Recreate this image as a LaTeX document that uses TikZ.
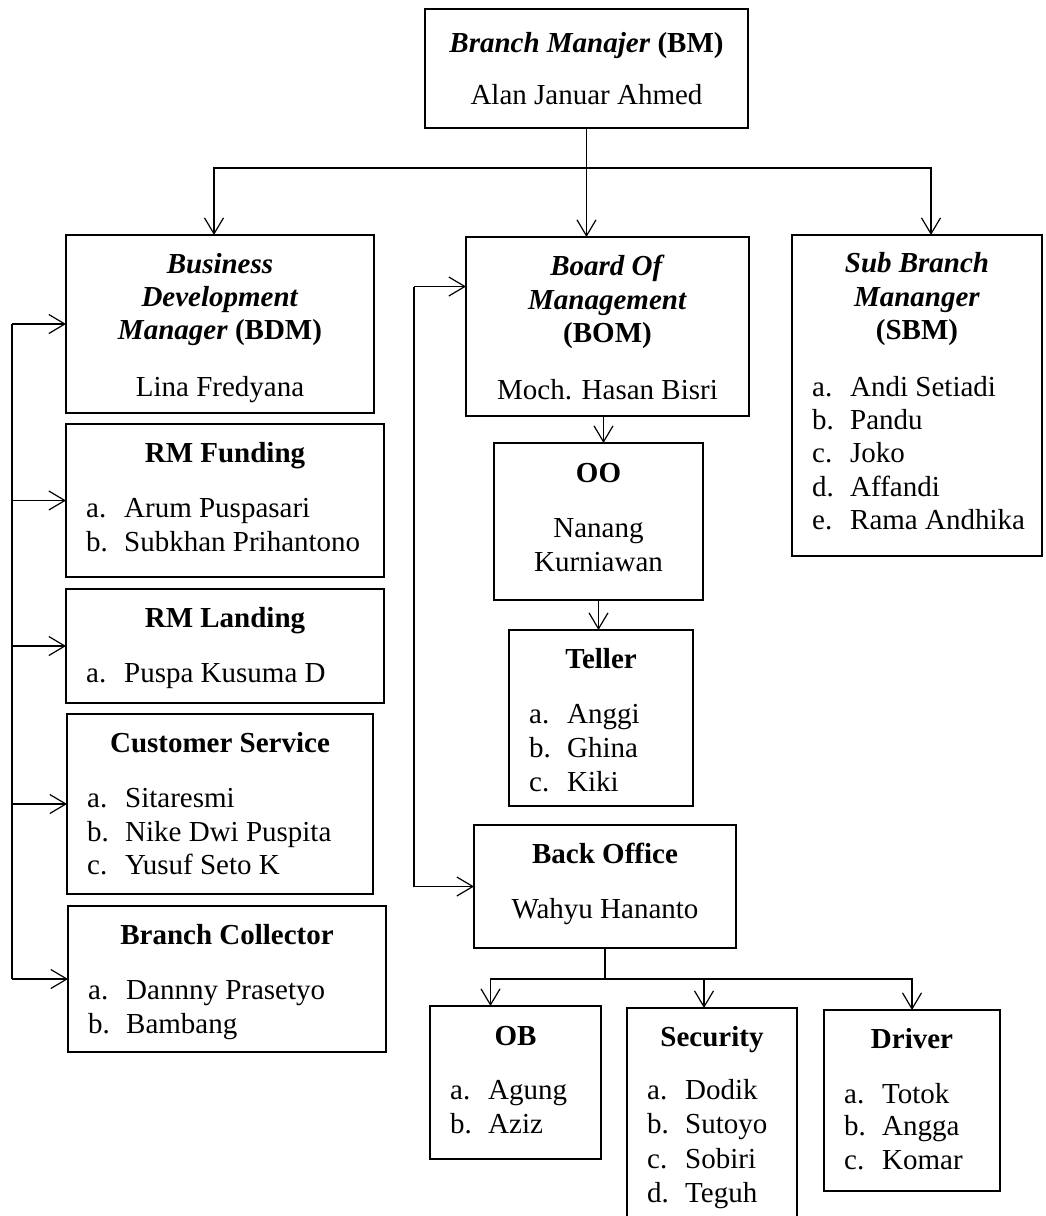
\documentclass[tikz,border=0pt]{standalone}
\usepackage{fontspec}
\setmainfont{Liberation Serif}
\usetikzlibrary{arrows.meta}
\newcommand\obox[5]{\node[bx, minimum width={(#4-#2)*1pt}, minimum height={(#5-#3)*1pt}] (#1) at ({(#2+#4)/2},{(#3+#5)/2}) {};}
\newcommand\otx[4]{\node[txt] (#1) at (#2,{#3+9}) {#4};}
\newcommand\oli[5]{\node[txt, anchor=base west] (#1) at (#2,{#3+9}) {\makebox[38pt][l]{#4}#5};}
\begin{document}
\begin{tikzpicture}[x=1pt,y=-1pt,
  bx/.style={draw, line width=1.3pt, inner sep=0pt, outer sep=0pt},
  txt/.style={inner sep=0pt, anchor=base, font=\fontsize{29}{33}\selectfont},
  ln/.style={line width=1.2pt},
  arr/.style={ln, -{Straight Barb[length=16pt,width=19pt]}}]
\useasboundingbox (0,0) rectangle (1045,1216);
\clip (0,0) rectangle (1045,1216);
\fill[white] (0,0) rectangle (1045,1216);

% boxes
\obox{bm}{425}{9}{748}{128}
\obox{bdm}{66}{235}{374}{413}
\obox{rmf}{66}{424}{384}{577}
\obox{rml}{66}{589}{384}{703}
\obox{cs}{67}{714}{373}{894}
\obox{bc}{68}{906}{386}{1052}
\obox{bom}{466}{237}{749}{416}
\obox{sbm}{792}{235}{1042}{556}
\obox{oo}{494}{443}{703}{600}
\obox{tel}{509}{630}{693}{806}
\obox{bo}{474}{825}{736}{948}
\obox{ob}{430}{1006}{601}{1159}
\obox{sec}{627}{1008}{797}{1240}
\obox{drv}{824}{1010}{1000}{1191}

% texts
\otx{bm-t}{586.5}{43}{\textbf{\textit{Branch Manajer} (BM)}}
\otx{bm-n}{586.5}{95}{Alan Januar Ahmed}

\otx{bdm-t1}{220}{264}{\textbf{\textit{Business}}}
\otx{bdm-t2}{220}{297}{\textbf{\textit{Development}}}
\otx{bdm-t3}{220}{330}{\textbf{\textit{Manager} (BDM)}}
\otx{bdm-n}{220}{387}{Lina Fredyana}

\otx{rmf-t}{225}{453}{\textbf{RM Funding}}
\oli{rmf-a}{86}{508}{a.}{Arum Puspasari}
\oli{rmf-b}{86}{542}{b.}{Subkhan Prihantono}

\otx{rml-t}{225}{618}{\textbf{RM Landing}}
\oli{rml-a}{86}{673}{a.}{Puspa Kusuma D}

\otx{cs-t}{220}{743}{\textbf{Customer Service}}
\oli{cs-a}{87}{798}{a.}{Sitaresmi}
\oli{cs-b}{87}{832}{b.}{Nike Dwi Puspita}
\oli{cs-c}{87}{865}{c.}{Yusuf Seto K}

\otx{bc-t}{227}{935}{\textbf{Branch Collector}}
\oli{bc-a}{88}{990}{a.}{Dannny Prasetyo}
\oli{bc-b}{88}{1024}{b.}{Bambang}

\otx{bom-t1}{607.5}{266}{\textbf{\textit{Board Of}}}
\otx{bom-t2}{607.5}{300}{\textbf{\textit{Management}}}
\otx{bom-t3}{607.5}{333}{\textbf{(BOM)}}
\otx{bom-n}{607.5}{390}{Moch. Hasan Bisri}

\otx{sbm-t1}{917}{263}{\textbf{\textit{Sub Branch}}}
\otx{sbm-t2}{917}{297}{\textbf{\textit{Mananger}}}
\otx{sbm-t3}{917}{330}{\textbf{(SBM)}}
\oli{sbm-a}{812}{387}{a.}{Andi Setiadi}
\oli{sbm-b}{812}{420}{b.}{Pandu}
\oli{sbm-c}{812}{453}{c.}{Joko}
\oli{sbm-d}{812}{487}{d.}{Affandi}
\oli{sbm-e}{812}{520}{e.}{Rama Andhika}

\otx{oo-t}{598.5}{473}{\textbf{OO}}
\otx{oo-n1}{598.5}{528}{Nanang}
\otx{oo-n2}{598.5}{562}{Kurniawan}

\otx{tel-t}{601}{659}{\textbf{Teller}}
\oli{tel-a}{529}{714}{a.}{Anggi}
\oli{tel-b}{529}{748}{b.}{Ghina}
\oli{tel-c}{529}{782}{c.}{Kiki}

\otx{bo-t}{605}{854}{\textbf{Back Office}}
\otx{bo-n}{605}{909}{Wahyu Hananto}

\otx{ob-t}{515.5}{1036}{\textbf{OB}}
\oli{ob-a}{450}{1090}{a.}{Agung}
\oli{ob-b}{450}{1124}{b.}{Aziz}

\otx{sec-t}{712}{1037}{\textbf{Security}}
\oli{sec-a}{647}{1090}{a.}{Dodik}
\oli{sec-b}{647}{1124}{b.}{Sutoyo}
\oli{sec-c}{647}{1159}{c.}{Sobiri}
\oli{sec-d}{647}{1193}{d.}{Teguh}

\otx{drv-t}{912}{1039}{\textbf{Driver}}
\oli{drv-a}{844}{1094}{a.}{Totok}
\oli{drv-b}{844}{1126}{b.}{Angga}
\oli{drv-c}{844}{1160}{c.}{Komar}

% connectors
\draw[arr] (bm.south) -- (bm.south |- bom.north);
\coordinate (j1) at (586.5,168);
\draw[arr] (j1) -| ([xshift=-6pt]bdm.north);
\draw[arr] (j1) -| ([xshift=14pt]sbm.north);

\coordinate (lbus) at (12,0);
\draw[ln] (lbus |- bdm.west) -- (lbus |- bc.west);
\foreach \n in {bdm,rmf,rml,cs,bc} \draw[arr] (lbus |- \n.west) -- (\n.west);

\coordinate (cbus) at (414,0);
\coordinate (bomin) at ([yshift=40pt]bom.west);
\draw[ln] (cbus |- bomin) -- (cbus |- bo.west);
\draw[arr] (cbus |- bomin) -- (bomin);
\draw[arr] (cbus |- bo.west) -- (bo.west);

\coordinate (ooin) at ([xshift=5pt]oo.north);
\draw[arr] (bom.south -| ooin) -- (ooin);
\draw[arr] (oo.south) -- (oo.south |- tel.north);

\coordinate (j2) at ([yshift=-31pt]bo.south);
\draw[ln] (bo.south) -- (j2);
\draw[arr] (j2) -| ([xshift=-25pt]ob.north);
\draw[arr] (j2) -| ([xshift=-8pt]sec.north);
\draw[arr] (j2) -| (drv.north);
\end{tikzpicture}
\end{document}
